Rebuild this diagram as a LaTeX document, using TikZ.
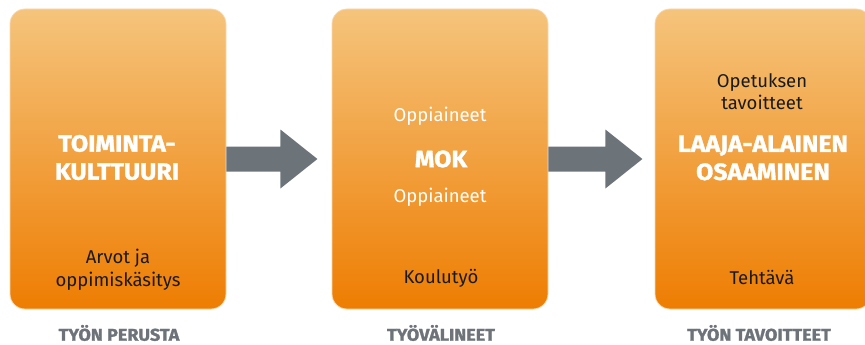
\documentclass[tikz,border=0pt]{standalone}
\usepackage{fontspec}
\setmainfont{Fira Sans}
\newfontfamily\heavyfont[BoldFeatures={FakeBold=1.4,FakeStretch=1.06}]{Fira Sans}
\usetikzlibrary{calc}
\definecolor{otop}{HTML}{F5C47C}
\definecolor{obot}{HTML}{EE7D02}
\definecolor{oedge}{HTML}{F9D8AE}
\definecolor{agray}{HTML}{6C7479}
\definecolor{lgray}{HTML}{6D7378}
\definecolor{tblack}{HTML}{1A1A1A}
\tikzset{
  box/.style={draw=oedge, line width=0.8pt, rounded corners=15pt, top color=otop, bottom color=obot, minimum width=216pt, minimum height=300pt, inner sep=0pt},
  title/.style={text=white, font=\heavyfont\fontsize{23.5}{28}\selectfont\bfseries, align=center},
  wtext/.style={text=white, font=\fontsize{18.5}{22}\selectfont, align=center},
  btext/.style={text=tblack, font=\fontsize{18.5}{22.5}\selectfont, align=center},
  label/.style={text=lgray, font=\heavyfont\fontsize{17}{20}\selectfont\bfseries},
  blockarrow/.style={fill=agray, draw=none}
}
\begin{document}
\begin{tikzpicture}[x=1pt,y=-1pt]
\useasboundingbox (0,0) rectangle (865,345);
\clip (0,0) rectangle (865,345);
\node[box] (b1) at (118,159) {};
\node[box] (b2) at (440,159) {};
\node[box] (b3) at (763,159) {};
% arrows
\fill[blockarrow] (b1.east) ++(0,-12.5) -- ++(54,0) -- ++(0,-17) -- ++(37,29.5) -- ++(-37,29.5) -- ++(0,-17) -- ++(-54,0) -- cycle;
\fill[blockarrow] (b2.east) ++(0,-12.5) -- ++(57,0) -- ++(0,-17) -- ++(37,29.5) -- ++(-37,29.5) -- ++(0,-17) -- ++(-57,0) -- cycle;
% box 1
\node[title] (t1) at (117,157.5) {TOIMINTA-\\KULTTUURI};
\node[btext] (s1) at (118,270) {Arvot ja\\oppimiskäsitys};
% box 2
\node[wtext] (o1) at (440,116) {Oppiaineet};
\node[title] (mok) at (441,159) {MOK};
\node[wtext] (o2) at (440,197) {Oppiaineet};
\node[btext] (k2) at (441,278) {Koulutyö};
% box 3
\node[btext] (op3) at (762,91.5) {Opetuksen\\tavoitteet};
\node[title] (la3) at (763,158) {LAAJA-ALAINEN\\OSAAMINEN};
\node[btext] (te3) at (762,278) {Tehtävä};
% labels
\node[label] (l1) at (119,333) {TYÖN PERUSTA};
\node[label] (l2) at (441,333) {TYÖVÄLINEET};
\node[label] (l3) at (759,333) {TYÖN TAVOITTEET};
\end{tikzpicture}
\end{document}
